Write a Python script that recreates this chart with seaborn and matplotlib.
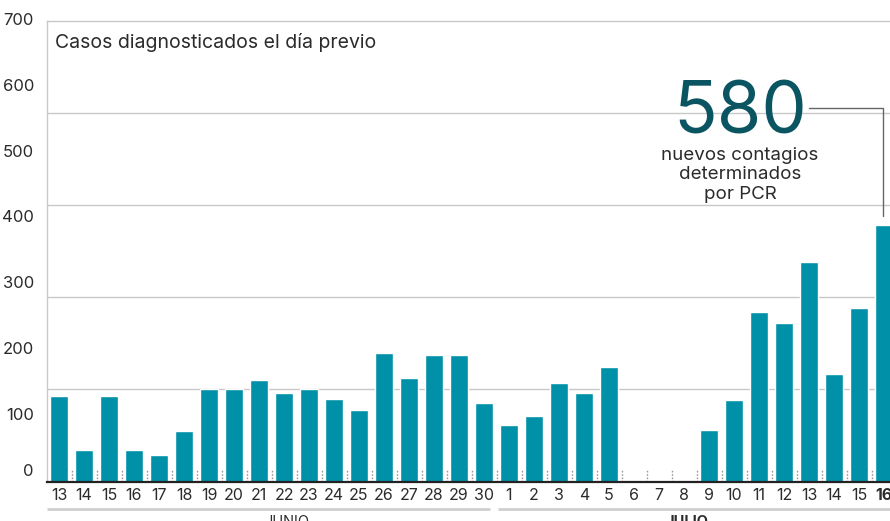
import numpy as np
import pandas as pd
import matplotlib
matplotlib.use("Agg")
import matplotlib.pyplot as plt
import seaborn as sns
from matplotlib.transforms import ScaledTranslation, blended_transform_factory

# ---- data (in the units of the y-axis labels) ----
june_days = [13, 14, 15, 16, 17, 18, 19, 20, 21, 22, 23, 24, 25, 26, 27, 28, 29, 30]
june_cases = [130, 48, 130, 48, 40, 77, 140, 140, 154, 135, 140, 125, 109, 195, 157, 192, 192, 119]
july_days = [1, 2, 3, 4, 5, 6, 7, 8, 9, 10, 11, 12, 13, 14, 15, 16]
july_cases = [86, 100, 150, 135, 174, 0, 0, 0, 78, 124, 258, 241, 334, 163, 264, 390]
y_ticks = [0, 100, 200, 300, 400, 500, 600, 700]
grid_levels = [140, 280, 420, 560]
months = ["JUNIO", "JULIO"]
title = "Casos diagnosticados el día previo"
highlight_number = "580"
highlight_text = "nuevos contagios\ndeterminados\npor PCR"

BAR = "#0091a8"
TEXT = "#2b2b2b"
GRID = "#c8c8c8"

day_labels = [str(d) for d in june_days] + [str(d) for d in july_days]
cases = june_cases + july_cases
n = len(cases)
df = pd.DataFrame({"pos": np.arange(n), "cases": cases})

sns.set_theme(style="white")
plt.rcParams["font.family"] = ["Inter", "DejaVu Sans"]

W, H = 890, 521
fig = plt.figure(figsize=(W / 100, H / 100), dpi=100)
ax_h = 460.5
ax = fig.add_axes([46.5 / W, 39.5 / H, 850 / W, ax_h / H])

sns.barplot(data=df, x="pos", y="cases", color=BAR, saturation=1,
            width=0.72, ax=ax, zorder=3)

ax.set_xlim(-0.5, n - 0.5)
ax.set_ylim(0, y_ticks[-1])
ax.set_xlabel("")
ax.set_ylabel("")

# gridlines
ax.set_yticks(grid_levels, minor=True)
ax.yaxis.grid(True, which="minor", color=GRID, lw=1)
ax.yaxis.grid(False, which="major")
ax.set_axisbelow(True)

# spines
ax.spines["right"].set_visible(False)
ax.spines["top"].set_color(GRID)
ax.spines["top"].set_linewidth(1)
ax.spines["left"].set_color(GRID)
ax.spines["left"].set_linewidth(1)
ax.spines["bottom"].set_color("#222222")
ax.spines["bottom"].set_linewidth(1.6)
ax.spines["bottom"].set_zorder(5)

# y ticks
ax.set_yticks(y_ticks)
ax.set_yticklabels([str(v) for v in y_ticks])
ax.tick_params(axis="y", which="both", length=0, pad=9, labelsize=12, labelcolor=TEXT)
for lab in ax.get_yticklabels():
    dy = 2 if lab.get_text() != "0" else 12
    lab.set_transform(lab.get_transform() + ScaledTranslation(0, dy / 100, fig.dpi_scale_trans))

# x ticks
ax.set_xticks(range(n))
ax.set_xticklabels(day_labels)
ax.tick_params(axis="x", length=0, pad=5, labelsize=11.5, labelcolor=TEXT)
ax.get_xticklabels()[-1].set_fontweight("bold")

# small dotted separators between days
for b in np.arange(0.5, n - 0.5, 1):
    ax.axvline(b, ymin=0, ymax=12 / ax_h, color="#9a9a9a", lw=1,
               ls=(0, (1.2, 1.2)), zorder=1)

# month brackets
trans = blended_transform_factory(ax.transData, ax.transAxes)
nj = len(june_days)
ax.plot([-0.48, nj - 0.76], [-27.5 / ax_h] * 2, transform=trans, color="#cfcfcf",
        lw=2, clip_on=False, solid_capstyle="butt")
ax.plot([nj - 0.44, n + 0.2], [-27.5 / ax_h] * 2, transform=trans, color="#cfcfcf",
        lw=2, clip_on=False, solid_capstyle="butt")
ax.text(9.1, -33.5 / ax_h, months[0], transform=trans, ha="center", va="top",
        fontsize=10.5, color=TEXT, clip_on=False)
ax.text(25.1, -33.5 / ax_h, months[1], transform=trans, ha="center", va="top",
        fontsize=10.5, color=TEXT, fontweight="bold", clip_on=False)

# title inside plot
ax.text(8.5 / 850, 1 - 21 / ax_h, title, transform=ax.transAxes, ha="left",
        va="center", fontsize=14, color=TEXT)

# highlight annotation
last = n - 1
px = y_ticks[-1] / ax_h  # data units per pixel
ax.text(27.24, 348.5 * px, highlight_number, ha="center", va="baseline",
        fontsize=52, fontweight="normal", color="#0b5563", zorder=6)
ax.text(27.24, 335 * px, highlight_text, ha="center", va="top",
        multialignment="center", fontsize=13.5, linespacing=1.2, color=TEXT, zorder=6)
ax.plot([30.0, last - 0.04, last - 0.04],
        [373.8 * px, 373.8 * px, cases[last] + 8.5 * px],
        color="#666666", lw=1, zorder=6, clip_on=False)

fig.savefig("out.png", dpi=100)
